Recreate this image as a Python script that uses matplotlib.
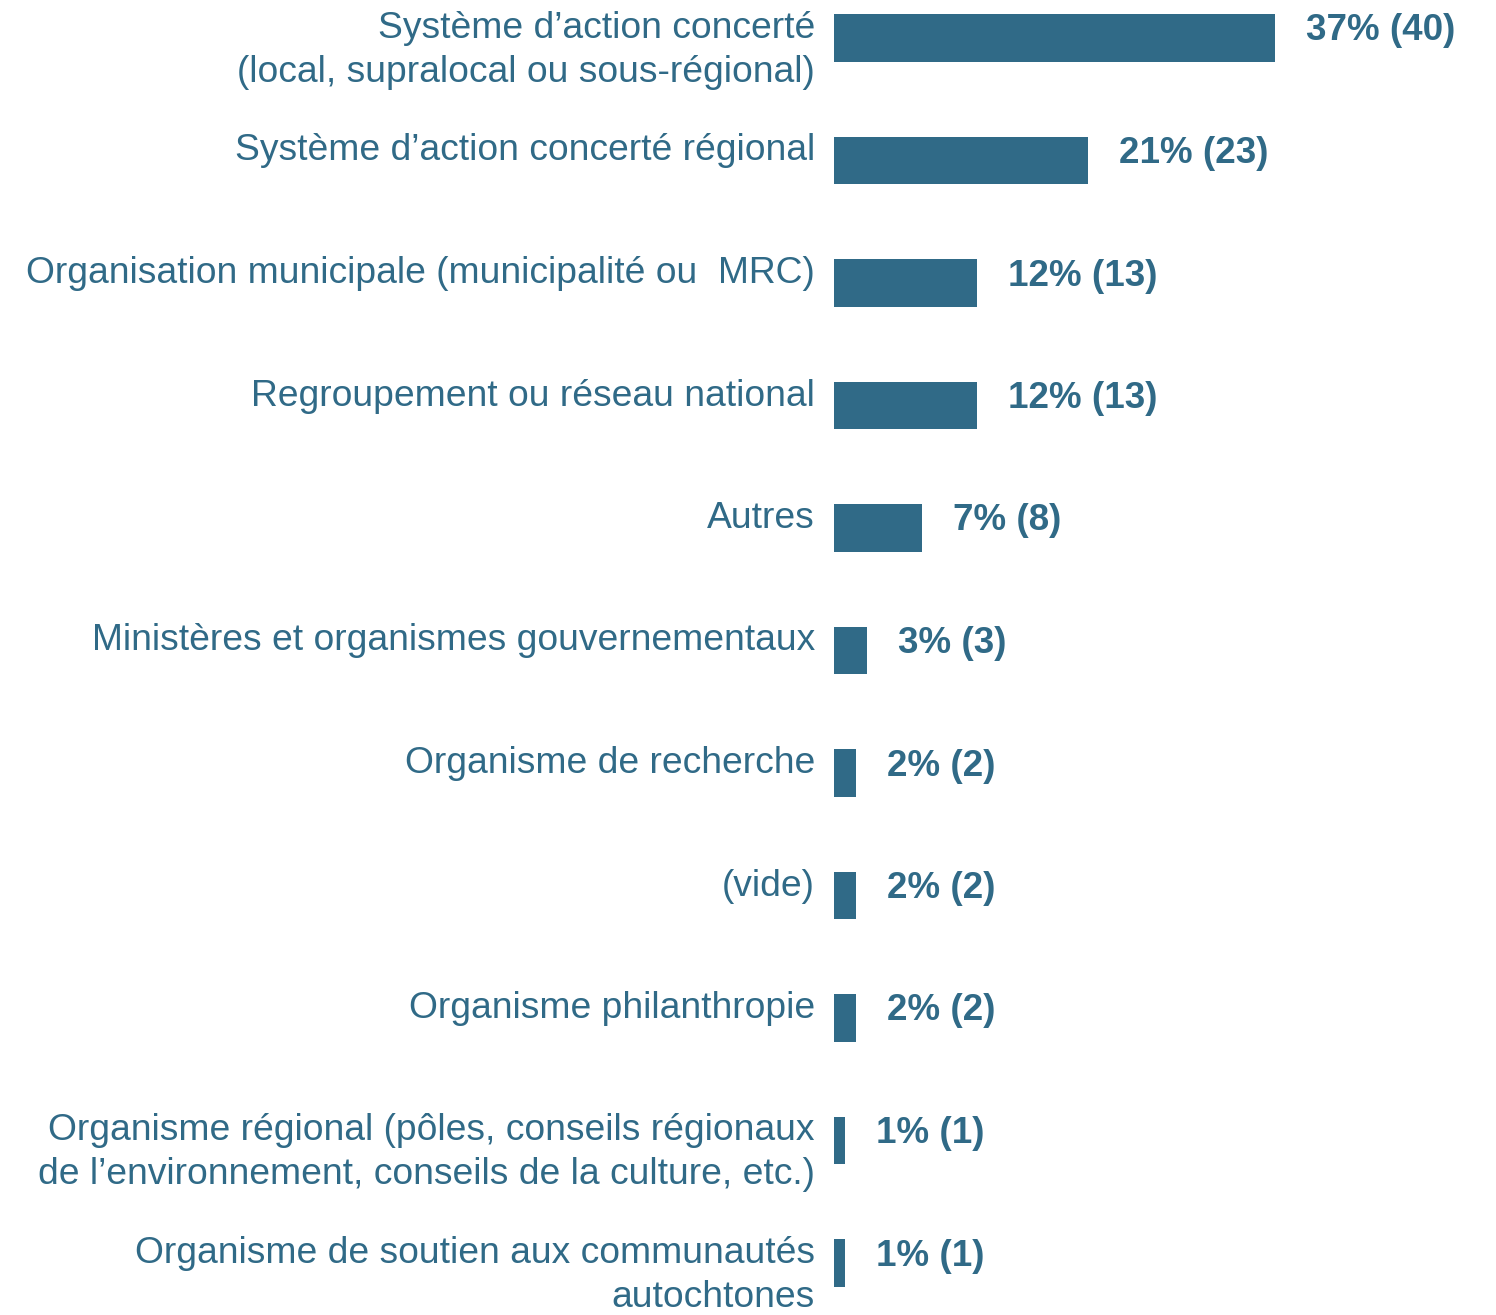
import matplotlib
matplotlib.use("Agg")
import matplotlib.pyplot as plt

categories = [
    "Système d\u2019action concerté\n(local, supralocal ou sous-régional)",
    "Système d\u2019action concerté régional",
    "Organisation municipale (municipalité ou  MRC)",
    "Regroupement ou réseau national",
    "Autres",
    "Ministères et organismes gouvernementaux",
    "Organisme de recherche",
    "(vide)",
    "Organisme philanthropie",
    "Organisme régional (pôles, conseils régionaux\nde l\u2019environnement, conseils de la culture, etc.)",
    "Organisme de soutien aux communautés\nautochtones",
]
counts = [40, 23, 13, 13, 8, 3, 2, 2, 2, 1, 1]
percents = [37, 21, 12, 12, 7, 3, 2, 2, 2, 1, 1]

color = "#306a87"
plt.rcParams["font.family"] = ["Liberation Sans", "DejaVu Sans"]

W, H, dpi = 1496, 1315, 100
fig = plt.figure(figsize=(W / dpi, H / dpi), dpi=dpi)
x0 = 834 / W
ax = fig.add_axes([x0, 0, 1 - x0, 1])

y = list(range(len(categories)))
ax.barh(y, counts, height=0.385, color=color)

step = 122.5
ax.set_ylim(10 + 52 / step, -38 / step)
ax.set_xlim(0, (W - 834) / 11.03)
ax.axis("off")

px = 72 / dpi
for i, (c, n, p) in enumerate(zip(categories, counts, percents)):
    ax.annotate(c, xy=(0, i), xytext=(-19 * px, 27 * px), textcoords="offset points",
                ha="right", va="top", fontsize=26.8, color=color,
                linespacing=1.32)
    ax.annotate(f"{p}% ({n})", xy=(n, i), xytext=(31 * px, 7 * px),
                textcoords="offset points", ha="left", va="center",
                fontsize=26.5, fontweight="bold", color=color)

fig.savefig("out.png", dpi=dpi)
